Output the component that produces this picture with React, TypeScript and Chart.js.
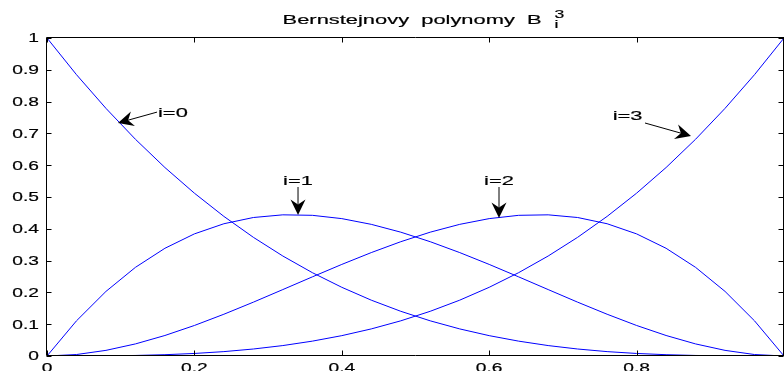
import React, { useEffect, useRef } from 'react';
import { Chart, registerables } from 'chart.js';

Chart.register(...registerables);

// Parameter samples t on [0, 1]
const tValues = [
  0, 0.04, 0.08, 0.12, 0.16, 0.2, 0.24, 0.28, 0.32, 0.36, 0.4, 0.44, 0.48,
  0.52, 0.56, 0.6, 0.64, 0.68, 0.72, 0.76, 0.8, 0.84, 0.88, 0.92, 0.96, 1,
];

// B_0^3 .. B_3^3 at the samples above
const b0 = [
  1, 0.8847, 0.7787, 0.6815, 0.5927, 0.512, 0.439, 0.3732, 0.3144, 0.2621,
  0.216, 0.1756, 0.1406, 0.1106, 0.0852, 0.064, 0.0467, 0.0328, 0.022, 0.0138,
  0.008, 0.0041, 0.0017, 0.0005, 0.0001, 0,
];
const b1 = [
  0, 0.1106, 0.2031, 0.2788, 0.3387, 0.384, 0.4159, 0.4355, 0.4439, 0.4424,
  0.432, 0.414, 0.3894, 0.3594, 0.3252, 0.288, 0.2488, 0.2089, 0.1693, 0.1313,
  0.096, 0.0645, 0.038, 0.0177, 0.0046, 0,
];
const b2 = [
  0, 0.0046, 0.0177, 0.038, 0.0645, 0.096, 0.1313, 0.1693, 0.2089, 0.2488,
  0.288, 0.3252, 0.3594, 0.3894, 0.414, 0.432, 0.4424, 0.4439, 0.4355, 0.4159,
  0.384, 0.3387, 0.2788, 0.2031, 0.1106, 0,
];
const b3 = [
  0, 0.0001, 0.0005, 0.0017, 0.0041, 0.008, 0.0138, 0.022, 0.0328, 0.0467,
  0.064, 0.0852, 0.1106, 0.1406, 0.1756, 0.216, 0.2621, 0.3144, 0.3732, 0.439,
  0.512, 0.5927, 0.6815, 0.7787, 0.8847, 1,
];

const xTickValues = [0, 0.2, 0.4, 0.6, 0.8, 1];
const xTickLabels = ['0', '0.2', '0.4', '0.6', '0.8', '1'];
const yTickValues = [0, 0.1, 0.2, 0.3, 0.4, 0.5, 0.6, 0.7, 0.8, 0.9, 1];
const yTickLabels = ['0', '0.1', '0.2', '0.3', '0.4', '0.5', '0.6', '0.7', '0.8', '0.9', '1'];

const titleMain = 'Bernstejnovy  polynomy  B';
const titleSup = '3';
const titleSub = 'i';

const curveLabels = ['i=0', 'i=1', 'i=2', 'i=3'];

// Annotation arrows, in data units: text anchor, arrow tail and arrow tip
const noteText = [
  { t: 0.1506, v: 0.767, align: 'left' },
  { t: 0.3406, v: 0.552, align: 'center' },
  { t: 0.6133, v: 0.552, align: 'center' },
  { t: 0.7877, v: 0.755, align: 'center' },
];
const noteTail = [
  { t: 0.1493, v: 0.767 },
  { t: 0.3406, v: 0.5314 },
  { t: 0.6133, v: 0.5314 },
  { t: 0.8114, v: 0.7327 },
];
const noteTip = [
  { t: 0.0963, v: 0.7327 },
  { t: 0.3406, v: 0.4434 },
  { t: 0.6133, v: 0.434 },
  { t: 0.8738, v: 0.6918 },
];

const FONT = '"Liberation Sans", Arial, Helvetica, sans-serif';
const LINE_BLUE = '#0000ff';

// Draws horizontally widened text; returns the drawn width
function wideText(
  ctx: CanvasRenderingContext2D,
  text: string,
  x: number,
  y: number,
  size: number,
  stretch: number,
  align: 'left' | 'center' | 'right',
  draw = true,
): number {
  ctx.save();
  ctx.font = `${size}px ${FONT}`;
  ctx.textAlign = 'left';
  ctx.textBaseline = 'alphabetic';
  const w = ctx.measureText(text).width * stretch;
  if (draw) {
    const x0 = align === 'center' ? x - w / 2 : align === 'right' ? x - w : x;
    ctx.translate(x0, y);
    ctx.scale(stretch, 1);
    ctx.fillStyle = '#000';
    ctx.strokeStyle = '#000';
    ctx.lineWidth = 0.18;
    ctx.fillText(text, 0, 0);
    ctx.strokeText(text, 0, 0);
  }
  ctx.restore();
  return w;
}

function drawArrow(ctx: CanvasRenderingContext2D, x1: number, y1: number, x2: number, y2: number) {
  const ang = Math.atan2(y2 - y1, x2 - x1);
  const L = 15.5;
  const notch = 10.5;
  const hw = 7.5;
  const ux = Math.cos(ang);
  const uy = Math.sin(ang);
  const px = -uy;
  const py = ux;
  ctx.save();
  ctx.strokeStyle = '#000';
  ctx.fillStyle = '#000';
  ctx.lineWidth = 1;
  ctx.beginPath();
  ctx.moveTo(x1, y1);
  ctx.lineTo(x2 - ux * notch, y2 - uy * notch);
  ctx.stroke();
  ctx.beginPath();
  ctx.moveTo(x2, y2);
  ctx.lineTo(x2 - ux * L + px * hw, y2 - uy * L + py * hw);
  ctx.lineTo(x2 - ux * notch, y2 - uy * notch);
  ctx.lineTo(x2 - ux * L - px * hw, y2 - uy * L - py * hw);
  ctx.closePath();
  ctx.fill();
  ctx.restore();
}

const framePlugin = {
  id: 'matlabFrame',
  afterDatasetsDraw(chart: any) {
    const { ctx, chartArea } = chart;
    const xs = chart.scales.x;
    const ys = chart.scales.y;
    const L = Math.round(chartArea.left) - 0.5;
    const R = Math.round(chartArea.right) - 0.5;
    const T = Math.round(chartArea.top) - 0.5;
    const B = Math.round(chartArea.bottom) - 0.5;
    const tick = 5;
    ctx.save();
    ctx.strokeStyle = '#000';
    ctx.lineWidth = 1;
    ctx.beginPath();
    ctx.moveTo(L, T);
    ctx.lineTo(R + 1, T);
    ctx.moveTo(L, T);
    ctx.lineTo(L, B);
    ctx.lineTo(R + 1, B);
    ctx.moveTo(R, T);
    ctx.lineTo(R, B);
    xTickValues.forEach((v) => {
      const px = Math.round(xs.getPixelForValue(v)) + 0.5;
      ctx.moveTo(px, B);
      ctx.lineTo(px, B - tick);
      ctx.moveTo(px, T);
      ctx.lineTo(px, T + tick);
    });
    yTickValues.forEach((v) => {
      const py = Math.round(ys.getPixelForValue(v)) + 0.5;
      ctx.moveTo(L, py);
      ctx.lineTo(L + tick, py);
      ctx.moveTo(R, py);
      ctx.lineTo(R - tick, py);
    });
    ctx.stroke();
    ctx.restore();
  },
  afterDraw(chart: any) {
    const { ctx, chartArea } = chart;
    const xs = chart.scales.x;
    const ys = chart.scales.y;
    const cw = chart.width;

    // tick labels
    yTickValues.forEach((v, i) => {
      const py = ys.getPixelForValue(v);
      wideText(ctx, yTickLabels[i], chartArea.left - 8, py + 4.3, 12, 1.6, 'right');
    });
    xTickValues.forEach((v, i) => {
      const px = xs.getPixelForValue(v);
      const w = wideText(ctx, xTickLabels[i], 0, 0, 12, 1.6, 'center', false);
      if (px + w / 2 <= cw) {
        wideText(ctx, xTickLabels[i], px, chartArea.bottom + 16, 12, 1.6, 'center');
      }
    });

    // title with sub/superscript
    const mainW = wideText(ctx, titleMain, 0, 0, 12.5, 1.75, 'left', false);
    const supW = wideText(ctx, titleSup, 0, 0, 11, 1.6, 'left', false);
    const groupW = mainW + 13 + supW;
    const cx = (chartArea.left + chartArea.right) / 2 + 8;
    const tx = cx - groupW / 2;
    wideText(ctx, titleMain, tx, 24, 12.5, 1.75, 'left');
    wideText(ctx, titleSup, tx + mainW + 13, 17.5, 11, 1.6, 'left');
    wideText(ctx, titleSub, tx + mainW + 13, 28, 11, 1.6, 'left');

    // curve annotations
    curveLabels.forEach((label, i) => {
      const n = noteText[i];
      const tx2 = xs.getPixelForValue(n.t);
      const ty2 = ys.getPixelForValue(n.v);
      wideText(ctx, label, tx2, ty2 + 4.5, 12.5, 1.75, n.align as any);
      drawArrow(
        ctx,
        xs.getPixelForValue(noteTail[i].t),
        ys.getPixelForValue(noteTail[i].v),
        xs.getPixelForValue(noteTip[i].t),
        ys.getPixelForValue(noteTip[i].v),
      );
    });
  },
};

export default function App() {
  const canvasRef = useRef<HTMLCanvasElement | null>(null);

  useEffect(() => {
    const canvas = canvasRef.current;
    if (!canvas) return;
    const series = [b0, b1, b2, b3];
    const chart = new Chart(canvas, {
      type: 'line',
      data: {
        datasets: series.map((vals, k) => ({
          label: curveLabels[k],
          data: tValues.map((t, i) => ({ x: t, y: vals[i] })),
          borderColor: LINE_BLUE,
          borderWidth: 1,
          pointRadius: 0,
          fill: false,
          tension: 0,
        })),
      },
      options: {
        responsive: false,
        animation: false,
        devicePixelRatio: 1,
        layout: { padding: { top: 38, left: 0, right: 0, bottom: 0 } },
        plugins: {
          legend: { display: false },
          tooltip: { enabled: false },
          title: { display: false },
        },
        scales: {
          x: {
            type: 'linear',
            min: 0,
            max: 1,
            grid: { display: false },
            border: { display: false },
            ticks: { display: false },
            afterBuildTicks: (s: any) => {
              s.ticks = xTickValues.map((v) => ({ value: v }));
            },
            afterFit: (s: any) => {
              s.height = 15;
            },
          },
          y: {
            type: 'linear',
            min: 0,
            max: 1,
            grid: { display: false },
            border: { display: false },
            ticks: { display: false },
            afterBuildTicks: (s: any) => {
              s.ticks = yTickValues.map((v) => ({ value: v }));
            },
            afterFit: (s: any) => {
              s.width = 47;
            },
          },
        },
      },
      plugins: [framePlugin],
    });
    return () => chart.destroy();
  }, []);

  return (
    <div style={{ position: 'absolute', left: 0, top: 0, width: 784, height: 371, background: '#fff' }}>
      <canvas ref={canvasRef} width={784} height={371} />
    </div>
  );
}
